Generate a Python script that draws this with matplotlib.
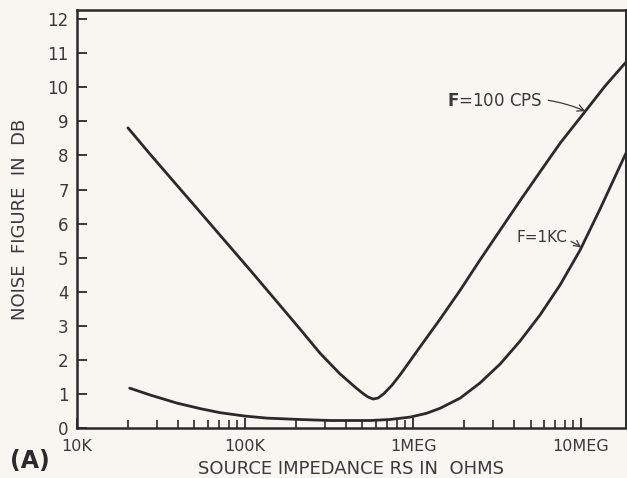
import numpy as np
import matplotlib
matplotlib.use("Agg")
import matplotlib.pyplot as plt
from matplotlib.ticker import FixedLocator, LogLocator, NullFormatter

# source impedance (ohms) vs noise figure (dB)
rs_100cps = [20.1e3, 27.2e3, 38.3e3, 54.0e3, 76.0e3, 107e3, 151e3, 212e3,
             279e3, 367e3, 452e3, 504e3, 540e3, 578e3, 619e3, 671e3, 750e3,
             837e3, 960e3, 1.10e6, 1.45e6, 1.91e6, 2.5e6, 3.3e6, 4.33e6,
             5.7e6, 7.5e6, 10.6e6, 13.9e6, 18.5e6]
nf_100cps = [8.81, 8.04, 7.19, 6.34, 5.49, 4.64, 3.77, 2.91,
             2.20, 1.59, 1.20, 1.01, 0.91, 0.85, 0.88, 1.01, 1.26,
             1.56, 1.97, 2.38, 3.20, 4.05, 4.93, 5.81, 6.67,
             7.52, 8.36, 9.30, 10.04, 10.74]

rs_1kc = [20.6e3, 27.2e3, 39.4e3, 54e3, 71e3, 100e3, 135e3, 212e3, 321e3,
          555e3, 730e3, 960e3, 1.2e6, 1.45e6, 1.91e6, 2.5e6, 3.3e6, 4.33e6,
          5.7e6, 7.5e6, 9.86e6, 12.97e6, 18.5e6]
nf_1kc = [1.17, 0.97, 0.73, 0.57, 0.45, 0.35, 0.29, 0.25, 0.22,
          0.22, 0.25, 0.32, 0.43, 0.58, 0.88, 1.32, 1.88, 2.55,
          3.32, 4.20, 5.22, 6.43, 8.07]

y_ticks = list(range(0, 13))
x_major = [1e4, 1e5, 1e6, 1e7]
x_labels = ["10K", "100K", "1MEG", "10MEG"]

PAPER = "#f7f6f0"
INK = "#2a2a2a"
TEXT = "#3a3a3a"

fig = plt.figure(figsize=(6.27, 4.78), dpi=100, facecolor=PAPER)
ax = fig.add_axes([0.1228, 0.1046, 0.8756, 0.8745], facecolor=PAPER)

ax.plot(rs_100cps, nf_100cps, color=INK, lw=2.0, solid_capstyle="round",
        solid_joinstyle="round")
ax.plot(rs_1kc, nf_1kc, color=INK, lw=2.0, solid_capstyle="round",
        solid_joinstyle="round")

ax.set_xscale("log")
ax.set_xlim(1e4, 18.5e6)
ax.set_ylim(0, 12.27)

ax.xaxis.set_major_locator(FixedLocator(x_major))
ax.set_xticklabels(x_labels)
ax.xaxis.set_minor_locator(LogLocator(base=10, subs=np.arange(2, 10)))
ax.xaxis.set_minor_formatter(NullFormatter())
ax.set_yticks(y_ticks)

ax.tick_params(axis="both", which="major", direction="in", length=7, width=1.3,
               color=INK, labelcolor=TEXT, labelsize=12)
ax.tick_params(axis="x", which="minor", direction="in", length=5.5, width=1.2, color=INK)
ax.tick_params(axis="x", which="major", labelsize=11.5, pad=8)
ax.tick_params(axis="y", which="major", pad=6)

for side in ["left", "bottom", "top"]:
    ax.spines[side].set_linewidth(1.8)
    ax.spines[side].set_color(INK)
ax.spines["right"].set_linewidth(1.4)
ax.spines["right"].set_color(INK)

ax.set_ylabel("NOISE  FIGURE  IN  DB", fontsize=13, color=TEXT, labelpad=13)
ax.set_xlabel("SOURCE IMPEDANCE RS IN  OHMS", fontsize=13, color=TEXT, labelpad=4)

# curve labels with little leader arrows
ax.annotate(r"$\mathbf{F}$=100 CPS", xy=(10.6e6, 9.30), xytext=(1.6e6, 9.6),
            fontsize=12, color=TEXT, ha="left", va="center",
            arrowprops=dict(arrowstyle="->", color=TEXT, lw=0.9,
                            connectionstyle="arc3,rad=-0.15", shrinkA=2, shrinkB=0))
ax.annotate("F=1KC", xy=(10e6, 5.30), xytext=(4.1e6, 5.6),
            fontsize=11, color=TEXT, ha="left", va="center",
            arrowprops=dict(arrowstyle="->", color=TEXT, lw=0.9,
                            connectionstyle="arc3,rad=-0.2", shrinkA=1, shrinkB=0))

fig.text(0.016, 0.02, "(A)", fontsize=17, fontweight="bold", color=INK,
         ha="left", va="baseline")

fig.savefig("out.png", dpi=100, facecolor=PAPER)
